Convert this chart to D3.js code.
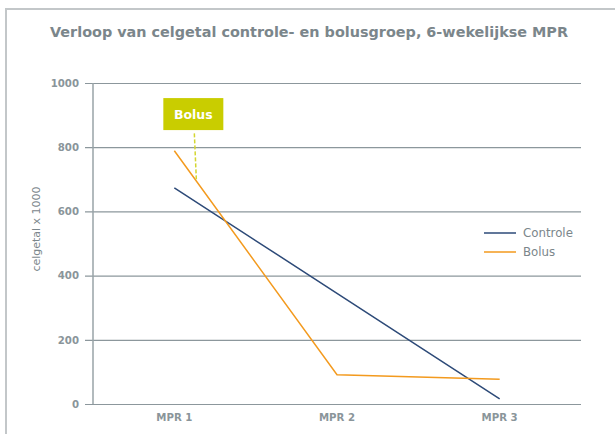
<!DOCTYPE html>
<html>
<head>
<meta charset="utf-8">
<style>
body { margin: 0; background: #fff; }
svg { display: block; font-family: "DejaVu Sans", sans-serif; }
.title { font-size: 14.4px; font-weight: bold; fill: #7b868b; }
.axis text { font-family: "DejaVu Sans", sans-serif; font-size: 10.2px; font-weight: bold; fill: #8a959a; }
.axis path, .axis line { stroke: #8c979c; }
.ylabel { font-size: 11px; fill: #7b868b; }
.legend text { font-size: 11.8px; fill: #7b868b; }
</style>
</head>
<body>
<svg id="svg"></svg>
<script src="https://cdnjs.cloudflare.com/ajax/libs/d3/7.8.5/d3.min.js"></script>
<script>
var categories = ['MPR 1', 'MPR 2', 'MPR 3']
var controle = [673, 345, 16]
var bolus = [789, 91, 77]
var yTicks = [0, 200, 400, 600, 800, 1000]

var W = 615, H = 434
var margin = {top: 83, right: 34, bottom: 30, left: 93}
var width = W - margin.left - margin.right,
    height = 404 - margin.top

var svg = d3.select('#svg').attr('width', W).attr('height', H)

// frame (open on right and bottom)
svg.append('path')
   .attr('d', 'M6,' + H + 'V9H' + W)
   .attr('fill', 'none')
   .attr('stroke', '#c3c7c9')
   .attr('stroke-width', 2)

svg.append('text')
   .attr('class', 'title')
   .attr('x', 309).attr('y', 37)
   .attr('text-anchor', 'middle')
   .text('Verloop van celgetal controle- en bolusgroep, 6-wekelijkse MPR')

var x = d3.scaleBand().domain(categories).range([0, width])
var y = d3.scaleLinear().domain([0, 1000]).range([height, 0])

var g = svg.append('g').attr('transform', 'translate(' + margin.left + ',' + margin.top + ')')

// grid
g.append('g').attr('class', 'axis y')
  .call(d3.axisLeft(y).tickValues(yTicks).tickFormat(d3.format('d')).tickSize(-width).tickPadding(14).tickSizeOuter(0))
  .call(s => s.select('.domain').remove())
  .call(s => s.selectAll('.tick line').attr('x1', -8).attr('stroke', '#99a3a7').attr('stroke-width', 1.2))

g.append('line').attr('x1', 0).attr('x2', 0).attr('y1', 0).attr('y2', height)
  .attr('stroke', '#99a3a7').attr('stroke-width', 1.5)

g.append('g').attr('class', 'axis x')
  .attr('transform', 'translate(0,' + height + ')')
  .call(d3.axisBottom(x).tickSize(0).tickPadding(10))
  .call(s => s.select('.domain').remove())

var line = d3.line().x((d, i) => x(categories[i]) + x.bandwidth() / 2).y(d => y(d))

g.append('path').datum(controle).attr('d', line)
  .attr('fill', 'none').attr('stroke', '#2d4a78').attr('stroke-width', 1.5)
g.append('path').datum(bolus).attr('d', line)
  .attr('fill', 'none').attr('stroke', '#f39a1e').attr('stroke-width', 1.5)

// callout
var cx = x(categories[0]) + x.bandwidth() / 2
g.append('line')
  .attr('x1', cx + 20).attr('y1', y(843))
  .attr('x2', cx + 22).attr('y2', y(700))
  .attr('stroke', '#d4d630').attr('stroke-width', 1.5).attr('stroke-dasharray', '4,2')
g.append('rect')
  .attr('x', cx - 11).attr('y', y(953))
  .attr('width', 60).attr('height', 32)
  .attr('fill', '#c9cd00')
g.append('text')
  .attr('x', cx + 19).attr('y', y(953) + 21)
  .attr('text-anchor', 'middle')
  .attr('fill', '#fff').attr('font-size', 12.5).attr('font-weight', 'bold')
  .text('Bolus')

// y label
svg.append('text')
   .attr('class', 'ylabel')
   .attr('transform', 'translate(40,229) rotate(-90)')
   .attr('text-anchor', 'middle')
   .text('celgetal x 1000')

// legend
var legend = svg.append('g').attr('class', 'legend').attr('transform', 'translate(484,233)')
var items = [['Controle', '#2d4a78'], ['Bolus', '#f39a1e']]
items.forEach(function(it, i) {
  legend.append('line').attr('x1', 0).attr('x2', 32).attr('y1', i * 19).attr('y2', i * 19)
    .attr('stroke', it[1]).attr('stroke-width', 1.5)
  legend.append('text').attr('x', 39).attr('y', i * 19 + 4).text(it[0])
})
</script>
</body>
</html>
